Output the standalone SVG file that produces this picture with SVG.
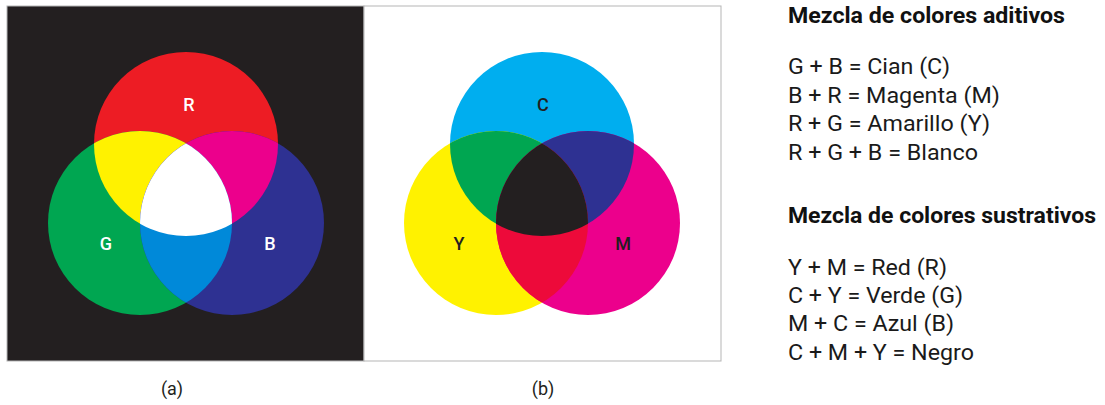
<svg xmlns="http://www.w3.org/2000/svg" width="1105" height="405" viewBox="0 0 1105 405">
<style>
.lbl{font-family:Roboto,'Liberation Sans',sans-serif;font-size:18px;font-weight:500;text-anchor:middle}
.w{fill:#ffffff}.k{fill:#231f20}
.h{font-family:Roboto,'Liberation Sans',sans-serif;font-size:22px;font-weight:700;fill:#111}
.t{font-family:Roboto,'Liberation Sans',sans-serif;font-size:22px;fill:#1a1a1a}
.cap{font-family:Roboto,'Liberation Sans',sans-serif;font-size:18px;fill:#231f20;text-anchor:middle}
</style>
<defs>
<clipPath id="cR"><circle cx="186" cy="144" r="92"/></clipPath>
<clipPath id="cG"><circle cx="140" cy="223" r="92"/></clipPath>
<clipPath id="cB"><circle cx="232" cy="223" r="92"/></clipPath>
<clipPath id="cC"><circle cx="542" cy="144" r="92"/></clipPath>
<clipPath id="cY"><circle cx="496" cy="223" r="92"/></clipPath>
<clipPath id="cM"><circle cx="588" cy="223" r="92"/></clipPath>
</defs>
<g id="panel-a">
<rect x="7" y="6" width="357" height="355" fill="#231f20" stroke="#b5b5b5" stroke-width="1"/>
<circle cx="186" cy="144" r="92" fill="#ed1c24"/>
<circle cx="140" cy="223" r="92" fill="#00a651"/>
<circle cx="232" cy="223" r="92" fill="#2e3192"/>
<circle cx="186" cy="144" r="92" fill="#fff200" clip-path="url(#cG)"/>
<circle cx="186" cy="144" r="92" fill="#ec008c" clip-path="url(#cB)"/>
<circle cx="140" cy="223" r="92" fill="#0089d9" clip-path="url(#cB)"/>
<g clip-path="url(#cB)"><circle cx="186" cy="144" r="92" fill="#ffffff" clip-path="url(#cG)"/></g>
<text class="lbl w" x="189" y="111">R</text>
<text class="lbl w" x="106" y="250">G</text>
<text class="lbl w" x="270" y="250">B</text>
</g>
<g id="panel-b">
<rect x="364" y="6" width="357" height="355" fill="#ffffff" stroke="#b5b5b5" stroke-width="1"/>
<circle cx="542" cy="144" r="92" fill="#00aeef"/>
<circle cx="496" cy="223" r="92" fill="#fff200"/>
<circle cx="588" cy="223" r="92" fill="#ec008c"/>
<circle cx="542" cy="144" r="92" fill="#00a651" clip-path="url(#cY)"/>
<circle cx="542" cy="144" r="92" fill="#2e3192" clip-path="url(#cM)"/>
<circle cx="496" cy="223" r="92" fill="#ed0a3a" clip-path="url(#cM)"/>
<g clip-path="url(#cM)"><circle cx="542" cy="144" r="92" fill="#231f20" clip-path="url(#cY)"/></g>
<text class="lbl k" x="543" y="111">C</text>
<text class="lbl k" x="459" y="250">Y</text>
<text class="lbl k" x="623" y="250">M</text>
</g>
<g id="captions">
<text class="cap" x="172" y="395">(a)</text>
<text class="cap" x="543" y="395">(b)</text>
</g>
<g id="legend">
<text class="h" x="788" y="23" textLength="277" lengthAdjust="spacingAndGlyphs">Mezcla de colores aditivos</text>
<text class="t" x="788" y="74" textLength="162" lengthAdjust="spacingAndGlyphs">G + B = Cian (C)</text>
<text class="t" x="788" y="102.5" textLength="212" lengthAdjust="spacingAndGlyphs">B + R = Magenta (M)</text>
<text class="t" x="788" y="131" textLength="202" lengthAdjust="spacingAndGlyphs">R + G = Amarillo (Y)</text>
<text class="t" x="788" y="159.5" textLength="190" lengthAdjust="spacingAndGlyphs">R + G + B = Blanco</text>
<text class="h" x="788" y="223" textLength="308" lengthAdjust="spacingAndGlyphs">Mezcla de colores sustrativos</text>
<text class="t" x="788" y="275" textLength="159" lengthAdjust="spacingAndGlyphs">Y + M = Red (R)</text>
<text class="t" x="788" y="303" textLength="175" lengthAdjust="spacingAndGlyphs">C + Y = Verde (G)</text>
<text class="t" x="788" y="331" textLength="166" lengthAdjust="spacingAndGlyphs">M + C = Azul (B)</text>
<text class="t" x="788" y="359.5" textLength="186" lengthAdjust="spacingAndGlyphs">C + M + Y = Negro</text>
</g>
</svg>
